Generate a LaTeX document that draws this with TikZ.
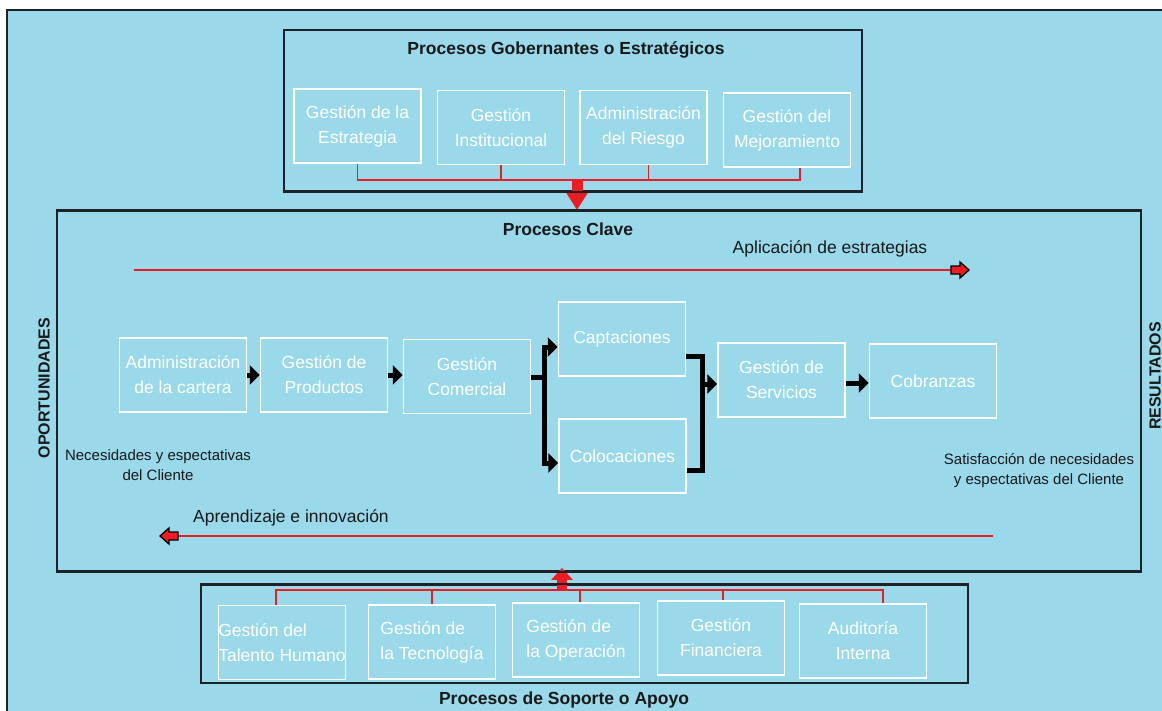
\documentclass[tikz,border=0pt]{standalone}
\usepackage{fontspec}
\setmainfont{Liberation Sans}
\usetikzlibrary{arrows.meta}
\definecolor{bgblue}{RGB}{153,217,234}
\definecolor{procred}{RGB}{237,28,36}
\definecolor{framegray}{RGB}{30,34,38}

\tikzset{
  pics/blockarrow/.style={code={
    \draw[fill=procred, draw=black, line width=1.3pt, line join=miter]
      (-18,-4) -- (-9,-4) -- (-9,-8) -- (0,0) -- (-9,8) -- (-9,4) -- (-18,4) -- cycle;}}
}

\begin{document}
\begin{tikzpicture}[x=1pt, y=-1pt,
  box/.style={draw=white, line width=1.5pt, text=white, align=center, inner sep=0pt,
    minimum width=127pt, minimum height=74pt, font=\fontsize{17.5}{25}\selectfont},
  suppbox/.style={box, align=left},
  grp/.style={draw=framegray, line width=1.8pt, inner sep=0pt},
  title/.style={font=\bfseries\fontsize{17.5}{20}\selectfont, text=black!90},
  note/.style={font=\fontsize{15}{20}\selectfont, align=center, text=black!90},
  flowtext/.style={font=\fontsize{17.5}{20}\selectfont, text=black!90},
  side/.style={font=\bfseries\fontsize{16}{18}\selectfont, rotate=90, text=black!90},
  redln/.style={draw=procred, line width=1.8pt},
  trunk/.style={draw=black, line width=5pt, line join=miter},
  flow/.style={trunk, -{Triangle[length=10pt 0 1,width=19pt 0 1]}},
]
\useasboundingbox (0,0) rectangle (1162,710);
\clip (0,0) rectangle (1162,710);
\fill[white] (0,0) rectangle (1162,710);

% outer sheet
\draw[fill=bgblue, draw=framegray, line width=1.8pt] (7,10) rectangle (1180,730);

% bus coordinates
\coordinate (gbus) at (577,180);
\coordinate (sbus) at (562,590);
\coordinate (fork) at (544,377);
\coordinate (join) at (702,384);
\coordinate (aplStart) at (134,270);
\coordinate (aplTip) at (969,270);
\coordinate (aprStart) at (993,536);
\coordinate (aprTip) at (160,536);

% strategic processes
\node[grp, minimum width=578pt, minimum height=161pt] (gob) at (573,110.5) {};
\node[title] (gobtitle) at (566,50) {Procesos Gobernantes o Estratégicos};
\node[box] (g1) at (357.5,126) {Gestión de la\\Estrategia};
\node[box] (g2) at (501,127.5) {Gestión\\Institucional};
\node[box] (g3) at (643.5,127.5) {Administración\\del Riesgo};
\node[box] (g4) at (787,130) {Gestión del\\Mejoramiento};

% key processes
\node[grp, minimum width=1084pt, minimum height=360pt] (clave) at (599,391) {};

% support processes
\node[grp, minimum width=767pt, minimum height=98pt] (sop) at (584.5,634) {};

% thick red arrows between the groups
\draw[procred, line width=11pt, -{Triangle[length=17pt,width=20pt]}] (gbus) -- (gbus |- clave.north);
\draw[procred, line width=10pt, -{Triangle[length=12pt,width=21pt]}, shorten >=-4pt] (sbus) -- (sbus |- clave.south);
% frames over the arrows
\draw[framegray, line width=1.8pt] (gob.south west) -- (gob.south east);
\draw[framegray, line width=1.8pt] (clave.north west) -- (clave.north east);
\draw[framegray, line width=1.8pt] (clave.south west) -- (clave.south east);
\draw[framegray, line width=1.8pt] (sop.north west) -- (sop.north east);

% red bus of the strategic processes
\draw[redln] (g1.south) -- (g1.south |- gbus) -- ([xshift=13pt]g4.south |- gbus) -- ([xshift=13pt]g4.south);
\draw[redln] (g2.south) -- (g2.south |- gbus);
\draw[redln] ([xshift=5pt]g3.south) -- ([xshift=5pt]g3.south |- gbus);

\node[title] (clavetitle) at (568,229) {Procesos Clave};

% strategy application line
\draw[redln] (aplStart) -- ([xshift=-18pt]aplTip);
\pic at (aplTip) {blockarrow};
\node[flowtext] (apltext) at (830,249) {Aplicación de estrategias};

% learning line
\draw[redln] (aprStart) -- ([xshift=18pt]aprTip);
\pic[rotate=180] at (aprTip) {blockarrow};
\node[flowtext] (aprtext) at (291,518) {Aprendizaje e innovación};

% key process chain
\node[box] (adm) at (183,375) {Administración\\de la cartera};
\node[box] (prod) at (324,375) {Gestión de\\Productos};
\node[box] (com) at (467,376.5) {Gestión\\Comercial};
\node[box] (cap) at (622,339) {Captaciones};
\node[box] (col) at (622.5,456) {Colocaciones};
\node[box] (serv) at (781.5,380) {Gestión de\\Servicios};
\node[box] (cob) at (933,381) {Cobranzas};

\draw[flow] (adm.east) -- (prod.west);
\draw[flow] (prod.east) -- (prod.east -| com.west);
\draw[trunk] (com.east |- fork) -- (fork);
\draw[flow] (fork) |- ([yshift=-8pt]cap.west);
\draw[flow] (fork) |- ([yshift=-7pt]col.west);
\draw[trunk] ([yshift=-17pt]cap.east) -| (join) |- ([yshift=-14pt]col.east);
\draw[flow] (join) -- (join -| serv.west);
\draw[flow] ([yshift=-3pt]serv.east) -- ([yshift=-3pt]serv.east -| cob.west);

% side notes
\node[note] (need) at (158,465) {Necesidades y espectativas\\del Cliente};
\node[note] (satis) at (1039,471) {Satisfacción de necesidades\\y espectativas del Cliente};
\node[side] (oport) at (44,388) {OPORTUNIDADES};
\node[side] (result) at (1155,376) {RESULTADOS};

% support boxes
\node[suppbox] (s1) at (282,642.5) {Gestión del\\Talento Humano};
\node[suppbox] (s2) at (432,642) {Gestión de\\la Tecnología};
\node[suppbox] (s3) at (576,640) {Gestión de\\la Operación};
\node[box] (s4) at (721,638) {Gestión\\Financiera};
\node[box] (s5) at (863,641) {Auditoría\\Interna};

% red bus of the support processes
\draw[redln] ([xshift=-6pt]s1.north) -- ([xshift=-6pt]s1.north |- sbus) -- ([xshift=20pt]s5.north |- sbus) -- ([xshift=20pt]s5.north);
\draw[redln] (s2.north) -- (s2.north |- sbus);
\draw[redln] ([xshift=4pt]s3.north) -- ([xshift=4pt]s3.north |- sbus);
\draw[redln] ([xshift=2pt]s4.north) -- ([xshift=2pt]s4.north |- sbus);

\node[title] (soptitle) at (564,700) {Procesos de Soporte o Apoyo};
\end{tikzpicture}
\end{document}
